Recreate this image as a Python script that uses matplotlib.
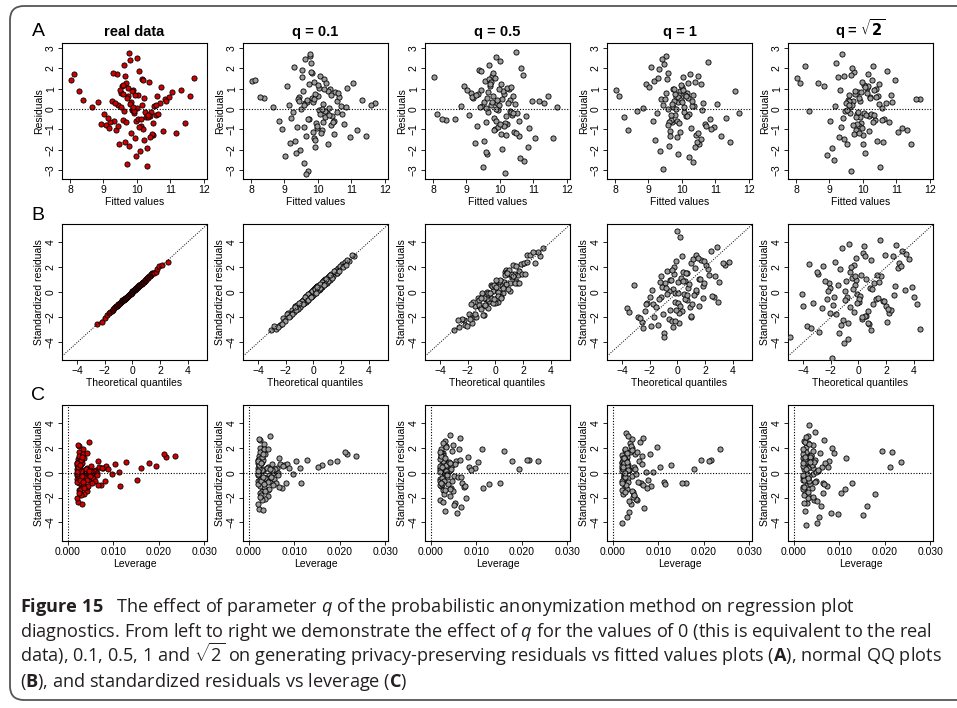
import numpy as np
import matplotlib
matplotlib.use('Agg')
import matplotlib.pyplot as plt
from matplotlib.patches import FancyBboxPatch
from statistics import NormalDist

plt.rcParams['font.family'] = ['Liberation Sans', 'DejaVu Sans']
plt.rcParams['mathtext.fontset'] = 'custom'
plt.rcParams['mathtext.rm'] = 'Open Sans'
plt.rcParams['mathtext.it'] = 'Open Sans:italic'
plt.rcParams['mathtext.bf'] = 'Open Sans:bold'

# ---- data (subsample of each point cloud) ----
panel_titles = ['real data', 'q = 0.1', 'q = 0.5', 'q = 1', r'q = $\mathbf{\sqrt{2}}$']

# shared fitted values (x of row A)
fitted = [
    9.84, 10.12, 9.56, 10.41, 9.73, 9.95, 10.68, 9.31, 10.05, 9.62,
    10.27, 9.88, 9.47, 10.83, 9.99, 9.21, 10.36, 9.70, 10.14, 9.53,
    8.02, 10.58, 9.79, 9.38, 10.22, 9.91, 11.05, 9.66, 10.47, 9.14,
    9.86, 10.31, 8.65, 10.02, 9.58, 10.73, 9.43, 10.18, 11.32, 9.77,
    9.97, 9.26, 10.09, 10.52, 9.68, 8.38, 10.39, 9.82, 10.95, 9.49,
    10.21, 9.07, 9.93, 10.64, 9.61, 11.71, 10.03, 9.35, 10.29, 9.75,
    9.52, 10.44, 8.92, 10.16, 9.89, 10.87, 9.41, 10.07, 9.64, 11.18,
    8.27, 9.81, 10.34, 9.17, 10.61, 9.96, 9.58, 10.25, 9.71, 10.49,
    9.29, 10.11, 11.58, 9.85, 10.38, 9.02, 10.01, 9.69, 10.78, 8.83,
    9.92, 10.19, 9.44, 10.56, 9.76, 11.43, 9.60, 10.32, 8.11, 9.90,
]

# shared leverage (x of row C)
leverage = [
    0.0021, 0.0034, 0.0026, 0.0045, 0.0022, 0.0029, 0.0061, 0.0038, 0.0024, 0.0052,
    0.0027, 0.0020, 0.0041, 0.0078, 0.0031, 0.0047, 0.0036, 0.0023, 0.0058, 0.0028,
    0.0215, 0.0049, 0.0025, 0.0033, 0.0069, 0.0021, 0.0104, 0.0030, 0.0042, 0.0055,
    0.0022, 0.0035, 0.0112, 0.0026, 0.0039, 0.0066, 0.0032, 0.0024, 0.0127, 0.0046,
    0.0020, 0.0043, 0.0029, 0.0051, 0.0023, 0.0161, 0.0037, 0.0072, 0.0084, 0.0030,
    0.0025, 0.0059, 0.0021, 0.0048, 0.0034, 0.0235, 0.0027, 0.0040, 0.0031, 0.0022,
    0.0029, 0.0044, 0.0081, 0.0024, 0.0063, 0.0075, 0.0033, 0.0021, 0.0026, 0.0115,
    0.0178, 0.0023, 0.0036, 0.0053, 0.0050, 0.0020, 0.0028, 0.0096, 0.0022, 0.0041,
    0.0042, 0.0025, 0.0194, 0.0021, 0.0035, 0.0064, 0.0023, 0.0027, 0.0067, 0.0089,
    0.0020, 0.0030, 0.0034, 0.0046, 0.0024, 0.0152, 0.0026, 0.0032, 0.0212, 0.0021,
]

# real residuals
resid_real = [
    0.35, -0.82, 1.12, -0.15, 0.64, -1.43, 0.28, -0.57, 1.86, -0.09,
    -0.38, 0.92, -1.71, 0.47, 0.05, -0.66, 1.34, -2.72, 0.18, 0.77,
    1.45, -0.29, 2.41, -1.05, 0.56, -0.21, 0.83, 1.62, -1.28, -0.44,
    -0.03, -1.92, 0.10, 0.71, -0.55, 1.08, 0.22, -0.97, 0.95, 2.78,
    -0.61, 0.39, -2.05, 0.14, 1.27, 0.45, -0.34, -1.16, 0.58, 0.93,
    -1.54, -0.79, 0.68, -0.27, 2.15, 1.55, -0.48, 0.31, -2.83, 1.01,
    0.12, -1.21, -0.72, 1.49, -0.06, 0.41, 1.73, -0.88, -1.62, -1.20,
    0.90, 0.24, -0.41, -0.95, 0.63, -2.31, 1.19, -0.16, 0.52, -0.70,
    1.78, -0.51, 0.65, 0.87, -1.37, -0.23, 2.52, -0.64, -1.08, 0.33,
    -0.12, 1.41, -0.86, 0.19, -1.83, -0.70, 0.74, -0.32, 1.70, 0.08,
]

# row A: privacy-preserving residuals
resid_q01 = [
    0.52, -1.04, 0.87, -0.33, 1.21, -0.71, 0.15, -1.58, 1.63, 0.27,
    -0.19, 1.35, -2.02, 0.08, 0.64, -0.45, 0.96, -3.05, -0.62, 1.92,
    1.38, 0.41, 2.27, -0.88, -0.11, 0.73, 1.26, -1.31, -0.57, 0.19,
    0.33, -1.73, 0.12, 1.04, -2.64, -0.26, 0.58, 1.47, 0.42, 2.61,
    -0.93, -0.14, -1.19, 0.85, 0.36, 0.55, -0.78, 1.76, -1.37, 0.02,
    -0.39, 1.11, -1.86, 0.61, 2.44, 0.30, -0.07, -2.18, 0.90, -0.51,
    1.57, -0.66, -0.97, 0.24, -1.45, 1.03, 0.47, -0.23, -3.18, -1.02,
    0.60, 1.82, -0.30, -1.66, 0.79, -0.84, 0.18, 1.30, -0.48, -1.24,
    2.08, -0.02, 0.21, -1.12, 0.67, -2.31, 1.16, 0.44, -0.73, -0.61,
    -1.51, 0.98, 0.39, -0.17, 2.69, -1.35, -0.90, 0.06, 1.41, 0.50,
]
resid_q05 = [
    -0.44, 0.73, 1.38, -1.12, 0.21, -0.05, 1.69, -0.82, 0.47, -2.21,
    0.96, -0.61, 0.13, -1.87, 2.36, 0.52, -0.29, 1.15, -3.14, 0.34,
    1.57, -1.33, 0.62, 1.93, -0.74, 0.28, -1.41, -0.16, 2.82, 0.81,
    -0.98, 0.45, -0.47, 1.24, 0.07, -2.55, 0.91, -0.37, 0.29, 1.60,
    0.19, -1.69, 0.88, -0.22, 1.47, -0.52, 0.66, -1.05, 0.38, -2.86,
    1.02, -0.31, -0.89, 2.04, 0.55, 0.12, -1.24, 0.74, -0.08, 1.31,
    -1.58, 0.26, 1.11, -0.69, 2.57, -0.95, 0.09, -1.96, 0.83, 0.41,
    -0.50, 1.75, -0.13, 0.58, -2.40, 0.99, -0.64, 0.31, 1.22, -1.17,
    0.71, -0.86, -1.42, 1.53, -0.20, 0.95, -0.76, 2.19, -0.35, 0.17,
    0.44, -1.28, 1.86, -0.58, 0.36, 0.63, -2.12, 1.07, -0.27, 0.00,
]
resid_q1 = [
    0.61, -0.37, 1.47, -1.26, 0.09, 0.88, -0.72, 1.95, -0.14, -1.81,
    -0.95, 0.33, 2.21, -0.48, 1.06, -1.54, 0.17, -0.66, 0.79, 2.63,
    0.92, 1.25, -0.28, 0.48, -2.37, 0.70, 0.23, -1.07, 1.62, -0.59,
    -1.39, 0.14, -0.11, 0.93, 1.79, -0.84, -2.94, 0.56, -0.46, 0.39,
    1.17, -0.21, 0.67, -1.72, -0.53, -1.02, 1.34, 0.02, -0.90, 0.51,
    -0.25, 2.05, -1.15, 0.27, -0.64, -0.18, 1.58, -2.08, 0.41, 1.00,
    0.80, -1.61, 1.22, -0.33, 0.58, -0.99, 2.44, 0.11, -1.31, -1.35,
    -0.41, 0.75, -2.62, 1.37, -0.07, 0.44, -0.79, 1.71, 0.26, -1.20,
    1.51, 0.63, 0.90, -0.57, -1.88, 1.09, 0.35, -0.30, 2.30, 0.05,
    -0.69, 1.29, 0.20, -1.47, 0.96, -1.63, -0.02, 0.71, 0.62, -2.23,
]
resid_qs2 = [
    -0.27, 1.03, 0.46, -1.57, 1.82, -0.68, 0.31, 0.95, -2.19, 0.12,
    1.44, -0.83, -0.09, 0.69, -1.29, 2.28, -0.56, 0.37, 1.12, -1.71,
    1.55, 0.03, -1.02, 2.73, 0.58, -0.41, -1.13, 1.68, 0.24, -2.52,
    0.86, -0.62, 1.29, -0.19, 0.41, 1.87, -1.46, -0.35, -1.06, 0.74,
    -0.93, 1.58, -0.31, -2.87, 0.18, -0.12, 0.99, -0.74, 1.41, 0.27,
    0.52, -1.92, 0.84, -0.48, -0.21, 0.47, 1.19, -0.87, 2.11, -1.25,
    -0.07, 0.62, -2.28, 1.73, -1.18, 0.33, -0.45, 1.06, -3.08, -0.96,
    2.10, -0.39, 0.91, 0.15, -1.61, 1.35, 0.68, -0.27, -0.80, 1.21,
    -1.37, 0.79, 0.49, -0.15, 0.60, -0.58, -1.74, 2.02, -0.66, 1.13,
    0.40, -1.08, 1.62, -0.53, 0.87, -1.72, 0.21, -0.30, 1.30, 0.56,
]

# row B: privacy-preserving QQ points (theoretical, standardized)
qqx_q01 = [
    -1.52, 0.34, -0.71, 1.18, -0.06, 2.04, -2.21, 0.62, -0.39, 1.57,
    0.95, -1.09, -0.24, 2.61, 0.13, -2.73, 0.77, -0.55, 1.36, -1.83,
    -0.12, 1.81, -1.31, 0.48, -0.88, 2.95, -0.31, 1.03, -2.44, 0.21,
    -0.63, 1.45, 0.07, -1.67, 0.86, -3.08, 0.40, -0.97, 2.27, -0.18,
    1.12, -0.45, 0.58, -2.05, 1.69, -0.79, 0.26, -1.20, 0.02, 2.41,
    -1.41, 0.70, -0.02, 1.27, -2.60, 0.35, -0.52, 1.93, -0.93, 0.11,
    0.51, -1.95, 1.05, -0.28, 0.18, -1.14, 1.62, -0.67, 2.17, -0.09,
    -0.83, 0.91, -1.57, 0.29, 2.79, -0.36, 1.34, -2.31, 0.64, -0.15,
    1.71, -0.58, 0.44, -1.25, 0.81, -2.88, 0.09, 1.49, -0.74, 0.23,
    -1.02, 2.36, -0.42, 0.73, -1.75, 1.21, 0.16, -0.21, 1.88, -1.36,
]
qqy_q01 = [
    -1.38, 0.51, -0.88, 1.02, 0.15, 2.25, -2.05, 0.43, -0.60, 1.71,
    0.78, -1.24, -0.02, 2.48, 0.31, -2.92, 0.99, -0.74, 1.19, -1.65,
    -0.30, 1.97, -1.12, 0.29, -1.05, 2.88, -0.11, 1.24, -2.63, 0.05,
    -0.47, 1.28, 0.25, -1.85, 1.06, -3.02, 0.22, -1.18, 2.41, 0.01,
    1.31, -0.63, 0.41, -2.28, 1.52, -0.60, 0.47, -1.03, -0.17, 2.57,
    -1.60, 0.88, -0.20, 1.45, -2.79, 0.17, -0.33, 2.11, -0.75, 0.29,
    0.33, -1.77, 0.87, -0.10, 0.39, -1.32, 1.81, -0.85, 1.98, 0.12,
    -0.66, 1.08, -1.73, 0.47, 2.96, -0.17, 1.16, -2.49, 0.81, -0.36,
    1.54, -0.40, 0.63, -1.44, 0.63, -2.71, 0.29, 1.67, -0.93, 0.42,
    -0.85, 2.19, -0.61, 0.55, -1.94, 1.39, -0.03, -0.40, 1.72, -1.18,
]
qqx_q05 = [
    -1.45, 0.52, -0.33, 1.61, 0.08, -2.30, 0.94, -0.71, 2.25, -1.10,
    0.27, -0.95, 1.33, -1.72, 0.66, 2.83, -0.18, 1.02, -2.61, 0.43,
    -0.57, 1.88, -1.28, 0.15, 3.25, -0.02, 1.46, -1.93, 0.79, -0.41,
    1.19, -0.84, 0.35, -2.97, 0.90, -0.26, 2.06, -1.52, 0.55, -0.09,
    -1.16, 1.57, -0.48, 0.71, -2.17, 0.21, 1.25, -0.65, 2.51, -1.38,
    0.61, -0.15, 1.74, -0.99, 0.02, -1.81, 0.38, 2.29, -0.61, 1.08,
    -0.30, 0.84, -2.44, 1.41, -0.74, 0.47, 3.05, -1.61, 0.12, -0.89,
    1.95, -1.22, 0.31, -0.52, 2.69, -2.05, 0.74, -0.04, 1.13, -1.79,
    -0.63, 1.52, 0.19, -1.07, 0.97, -0.36, 1.68, -2.73, 0.58, -0.21,
    0.05, -1.49, 2.14, -0.80, 1.29, -0.12, 0.86, -1.01, 3.42, 0.40,
]
qqy_q05 = [
    -1.10, -0.08, 0.57, 1.41, -0.77, -2.20, 1.49, -1.11, 3.00, -1.15,
    -0.03, -0.30, 1.48, -2.47, 1.61, 2.33, 0.07, 0.12, -2.76, 0.88,
    -1.27, 2.28, -0.43, 0.05, 2.90, 0.58, 0.91, -1.73, 1.79, -0.66,
    1.24, -1.79, 0.85, -2.97, 0.25, 0.54, 2.36, -1.97, 0.40, 0.61,
    -0.61, 0.77, -0.68, 1.36, -2.57, -0.79, 2.15, -0.55, 2.96, -1.98,
    0.86, -0.65, 1.69, -0.04, 0.42, -2.11, -0.37, 2.44, -0.01, 0.73,
    -0.45, 1.59, -2.09, 0.71, -0.99, 0.52, 3.25, -0.81, -0.48, -1.84,
    1.50, -1.02, 1.01, -0.07, 3.24, -2.65, 0.64, -0.84, 1.48, -0.94,
    -0.53, 2.12, -0.26, -1.37, 1.82, -0.06, 0.78, -2.23, 0.38, -0.86,
    0.95, -1.74, 1.44, -0.45, 1.29, -0.52, 1.51, -0.46, 3.57, -0.45,
]
qqx_q1 = [
    -1.21, 0.43, 1.88, -0.62, 0.07, 2.74, -2.35, 0.95, -0.18, 1.36,
    -0.88, 0.31, -1.74, 1.12, 3.45, -0.34, 0.68, -2.87, 1.59, -0.05,
    0.22, -1.43, 2.19, -0.51, 0.89, -3.68, 1.31, -0.15, -2.02, 0.58,
    1.71, -0.97, 0.14, -2.56, 0.76, 2.63, -0.28, 1.04, -1.18, 3.72,
    -0.40, 1.25, -1.86, 0.49, -0.72, 2.41, 0.02, -3.15, 0.97, -1.33,
    0.81, -0.23, 1.53, -2.18, 0.36, -1.02, 2.05, -0.59, 3.31, 0.11,
    -1.58, 1.94, -0.08, 0.67, -2.71, 1.18, -0.45, 2.86, -0.96, 0.28,
    -0.31, 2.28, -1.14, 0.54, -3.52, 1.46, -0.77, 0.19, -2.24, 1.83,
    0.99, -1.67, 0.41, -0.12, 2.52, -0.83, 1.65, -2.48, 0.72, -0.36,
    1.38, -0.55, 3.02, -1.92, 0.06, -0.21, 1.90, -1.26, 0.63, 2.97,
]
qqy_q1 = [
    -0.35, 1.62, 0.48, -2.11, 0.83, 1.30, -1.52, 2.35, -0.74, 0.06,
    0.71, -1.46, -0.92, 2.68, 2.21, 0.25, -0.63, -1.94, 1.05, 4.91,
    4.38, -2.57, 1.84, 1.02, -1.21, -1.23, 2.97, -0.09, -0.38, 0.94,
    2.59, -3.21, -1.65, -2.38, 0.31, -0.41, 1.47, -0.94, 1.28, 2.41,
    -2.27, 1.91, 0.18, -0.17, 1.73, 3.29, -0.82, 0.55, -1.98, -0.51,
    0.63, 2.02, -1.13, -0.85, 2.88, -1.72, 2.16, 0.12, 2.31, -2.45,
    -1.18, 0.72, -1.38, 1.51, -2.04, -0.22, 0.97, 3.62, -3.58, 1.16,
    -2.76, 1.35, 0.41, -0.57, -1.55, 2.73, -0.11, -1.09, -0.97, -0.48,
    -1.87, -1.96, 0.89, 2.46, -0.32, 0.37, 1.06, -2.83, -0.25, 1.80,
    0.19, -1.41, 0.86, -2.66, -0.03, -2.32, 2.51, 0.84, 1.57, -0.79,
]
qqx_qs2 = [
    -2.13, 0.54, 1.92, -0.86, 3.41, -3.75, 0.18, -1.44, 2.67, -0.32,
    1.05, -2.91, 0.37, -0.11, 4.46, -1.68, 2.21, -4.92, 0.82, -0.59,
    1.53, -0.74, 3.87, -2.45, 0.03, -1.19, 2.86, -3.28, 0.66, -0.18,
    -1.02, 2.48, -0.46, 1.27, -4.11, 0.29, -2.66, 3.19, -0.95, 0.91,
    -0.23, 1.78, -3.56, 0.47, -1.82, 3.63, -0.68, 2.05, -2.31, 1.16,
    0.12, -1.35, 4.21, -0.79, 1.64, -2.07, 0.75, -3.01, 2.39, -0.42,
    2.93, -0.15, -1.60, 1.39, -2.89, 0.58, -0.98, 3.35, -1.91, 0.35,
    -0.61, 1.98, -2.22, 0.90, -1.13, 2.71, -0.30, -3.98, 1.47, 0.06,
    0.71, -1.50, 3.08, -0.53, 2.15, -2.54, 1.01, -0.07, -1.25, 4.03,
    -0.88, 1.33, -3.43, 0.24, 2.57, -1.77, 0.49, -0.27, 1.85, -2.03,
]
qqy_qs2 = [
    0.77, -1.85, 2.94, -0.41, 3.02, -2.71, 1.39, -3.22, 0.48, 2.18,
    -0.96, 1.43, 3.67, -0.13, -2.95, 2.42, -1.67, -3.56, 0.32, -1.21,
    4.21, -2.44, 0.41, 0.92, -0.75, 3.51, 1.94, -0.86, -1.48, 1.02,
    -4.05, 2.87, 1.17, -0.52, -0.14, -2.14, -1.23, 3.28, 0.07, -3.02,
    0.56, -0.68, 2.24, -1.88, -1.01, 2.69, 3.85, -2.33, -0.55, 0.71,
    -0.30, 1.85, -0.93, -3.69, 1.28, 0.38, -2.56, 1.62, -1.42, 0.26,
    2.35, 2.72, -1.77, -0.49, -3.15, 1.07, -0.63, 0.20, -5.25, 3.12,
    1.61, -1.12, 0.13, 2.58, -2.18, 3.79, -1.59, -1.08, 0.85, -0.51,
    -2.45, 0.59, 2.07, 1.98, -1.35, 2.11, 0.24, -0.84, -2.62, -0.35,
    0.94, 1.41, -2.86, -1.94, -0.21, -0.40, 2.86, 1.29, -0.66, -1.69,
]

# row C: privacy-preserving standardized residuals
stdres_q01 = [
    0.41, -0.93, 1.26, -0.22, 0.75, -1.51, 0.38, -0.64, 2.02, -0.05,
    -0.47, 1.04, -1.85, 0.58, 0.13, -0.72, 1.47, -2.91, 0.27, 0.86,
    1.52, -0.36, 2.63, -1.14, 0.67, -0.19, 0.91, 1.78, -1.40, -0.50,
    0.06, -2.08, 0.35, 0.81, -0.60, 1.19, 0.29, -1.06, 1.02, 2.94,
    -0.69, 0.47, -2.21, 0.22, 1.38, 0.64, -0.39, -1.25, 0.70, 1.01,
    -1.66, -0.85, 0.77, -0.31, 2.34, 1.36, -0.52, 0.39, -2.98, 1.12,
    0.18, -1.30, -0.79, 1.63, -0.02, 0.50, 1.88, -0.95, -1.76, -0.82,
    0.88, 0.30, -0.46, -1.02, 0.71, -2.49, 1.30, -0.12, 0.59, -0.77,
    1.93, -0.56, 0.95, 0.96, -1.47, -0.20, 2.71, -0.70, -1.17, 0.40,
    -0.08, 1.53, -0.92, 0.26, -1.97, 0.45, 0.82, -0.36, 1.68, 0.12,
]
stdres_q05 = [
    -0.51, 0.84, 1.55, -1.27, 0.29, -0.03, 1.88, -0.93, 0.56, -2.45,
    1.07, -0.69, 0.19, -2.07, 2.58, 0.63, -0.31, 1.30, -3.28, 0.41,
    1.02, -1.46, 0.72, 2.14, -0.83, 0.34, 0.83, -0.15, 3.05, 0.92,
    -1.09, 0.53, 1.93, 1.39, 0.10, -2.80, 1.02, -0.40, -0.94, 1.78,
    0.23, -1.86, 0.99, -0.23, 1.63, 1.72, 0.75, -1.15, 0.45, -3.12,
    1.13, -0.33, -0.97, 2.25, 0.62, 0.97, -1.36, 0.84, -0.06, 1.46,
    -1.73, 0.31, 1.25, -0.75, 2.80, -1.04, 0.12, -2.16, 0.93, -1.21,
    0.98, 1.93, -0.11, 0.66, -2.63, 1.10, -0.70, 0.37, 1.36, -1.28,
    0.80, -0.94, 0.32, 1.70, -0.19, 1.06, -0.83, 2.41, -0.37, 0.21,
    0.50, -1.40, 2.06, -0.63, 0.42, -0.86, -2.33, 1.19, 1.01, 0.02,
]
stdres_q1 = [
    0.75, -0.44, 1.79, -1.53, 0.12, 1.07, -0.87, 2.37, -0.16, -2.20,
    -1.15, 0.41, 2.69, -0.57, 1.29, -1.87, 0.21, -0.80, 0.96, 3.20,
    1.05, 1.52, -0.33, 0.59, -2.88, 0.86, 0.45, -1.30, 1.97, -0.71,
    -1.69, 0.18, -0.72, 1.13, 2.17, -1.02, -3.57, 0.68, 0.60, 0.48,
    1.42, -0.25, 0.82, -2.09, -0.64, -0.83, 1.63, 0.03, -1.09, 0.62,
    -0.30, 2.49, -1.40, 0.33, -0.78, 1.92, 1.92, -2.53, 0.50, 1.22,
    0.97, -1.96, 1.48, -0.40, 0.71, -1.20, 2.97, 0.14, -1.59, -0.95,
    0.28, 0.92, -3.18, 1.66, -0.08, 0.54, -0.96, 2.08, 0.31, -1.46,
    1.84, 0.77, 1.01, -0.69, -2.29, 1.33, 0.43, -0.36, 2.80, 0.06,
    -0.84, 1.57, 0.24, -1.79, 1.17, -0.82, -0.02, 0.86, 0.95, -4.02,
]
stdres_qs2 = [
    -0.38, 1.46, 0.65, -2.23, 2.58, -0.96, 0.44, 1.35, -3.11, 0.17,
    2.04, -1.18, -0.13, 0.98, -1.83, 3.24, -0.79, 0.52, 1.59, -2.43,
    1.68, 0.04, -1.45, 3.87, 0.82, -0.58, -1.60, 2.38, 0.34, -3.58,
    1.22, -0.88, -1.32, -0.27, 0.58, 2.65, -2.07, -0.50, -0.85, 1.05,
    -1.32, 2.24, -0.44, -4.07, 0.26, -2.70, 1.40, -1.05, 2.00, 0.38,
    0.74, -2.72, 1.19, -0.68, -0.30, 0.88, 1.69, -1.23, 2.99, -1.77,
    -0.10, 0.88, -3.23, 2.45, -1.67, 0.47, -0.64, 1.50, -4.20, 1.20,
    -1.75, -0.55, 1.29, 0.21, -2.28, 1.91, 0.96, -3.35, -1.13, 1.71,
    -1.94, 1.12, 1.73, -0.21, 0.85, -0.82, -2.47, 2.86, -0.94, 1.60,
    0.57, -1.53, 2.30, -0.75, 1.23, -3.40, 0.30, -0.43, 0.42, 0.79,
]

caption_lines = [
    r"$\mathbf{Figure\ 15}$   The effect of parameter $q$ of the probabilistic anonymization method on regression plot",
    r"diagnostics. From left to right we demonstrate the effect of $q$ for the values of 0 (this is equivalent to the real",
    r"data), 0.1, 0.5, 1 and $\sqrt{2}$ on generating privacy-preserving residuals vs fitted values plots ($\mathbf{A}$), normal QQ plots",
    r"($\mathbf{B}$), and standardized residuals vs leverage ($\mathbf{C}$)",
]

# ---- derived values for the real data (rstandard + normal QQ) ----
h = np.array(leverage)
r = np.array(resid_real)
std_real = r / (r.std(ddof=1) * np.sqrt(1 - h))
n = len(r)
pp = (np.arange(1, n + 1) - 0.5) / n
theo = np.array([NormalDist().inv_cdf(v) for v in pp])

rowA = [(fitted, resid_real), (fitted, resid_q01), (fitted, resid_q05),
        (fitted, resid_q1), (fitted, resid_qs2)]
rowB = [(theo, np.sort(std_real)), (qqx_q01, qqy_q01), (qqx_q05, qqy_q05),
        (qqx_q1, qqy_q1), (qqx_qs2, qqy_qs2)]
rowC = [(leverage, std_real), (leverage, stdres_q01), (leverage, stdres_q05),
        (leverage, stdres_q1), (leverage, stdres_qs2)]

# ---- layout (pixels) ----
W, H = 957, 708
fig = plt.figure(figsize=(W / 100, H / 100), dpi=100)

bg = fig.add_axes([0, 0, 1, 1], zorder=-1)
bg.set_xlim(0, W)
bg.set_ylim(H, 0)
bg.axis('off')
bg.add_patch(FancyBboxPatch((10, 6), 1000, 694, boxstyle='round,pad=0,rounding_size=14',
                            fill=False, ec='#555555', lw=1.3))
for letter, yy in zip(['A', 'B', 'C'], [32, 215, 396]):
    bg.text(38, yy, letter, fontsize=14, ha='center', va='center')
for i, line in enumerate(caption_lines):
    bg.text(20, 612 + i * 25, line, fontsize=13.1, family='Open Sans', math_fontfamily='custom',
            color='#231f20', ha='left', va='baseline')

col_x = [62, 243, 425, 607, 788]
row_y = [43, 224, 405]
pw, ph = 145, 136
dot = (0, (1, 1.5))


def make_ax(c, r):
    ax = fig.add_axes([col_x[c] / W, 1 - (row_y[r] + ph) / H, pw / W, ph / H])
    ax.tick_params(labelsize=7.5, length=3, width=0.6, pad=1.5)
    for s in ax.spines.values():
        s.set_linewidth(0.8)
    return ax


def finish(ax):
    plt.setp(ax.get_yticklabels(), rotation=90, va='center')


for c in range(5):
    fill = '#d00000' if c == 0 else '#9c9c9c'
    kw = dict(s=14, c=fill, edgecolors='black', linewidths=0.6, zorder=3)

    # row A
    ax = make_ax(c, 0)
    ax.scatter(*rowA[c], **kw)
    ax.axhline(0, color='black', lw=0.8, ls=dot, zorder=4)
    ax.set_xlim(7.76, 12.1)
    ax.set_ylim(-3.45, 3.25)
    ax.set_xticks([8, 9, 10, 11, 12])
    ax.set_yticks([-3, -2, -1, 0, 1, 2, 3])
    ax.set_xlabel('Fitted values', fontsize=7.5, labelpad=1)
    ax.set_ylabel('Residuals', fontsize=7.5, labelpad=1)
    if c == 4:
        ax.set_title(panel_titles[c], fontsize=10.5, fontweight='bold', pad=5,
                     math_fontfamily='dejavusans')
    else:
        ax.set_title(panel_titles[c], fontsize=10.5, fontweight='bold', pad=5)
    finish(ax)

    # row B
    ax = make_ax(c, 1)
    ax.scatter(*rowB[c], **kw)
    ax.axline((0, 0), slope=1, color='black', lw=0.7, ls=dot, zorder=4)
    ax.set_xlim(-5.1, 5.4)
    ax.set_ylim(-5.4, 5.45)
    ax.set_xticks([-4, -2, 0, 2, 4])
    ax.set_yticks([-4, -2, 0, 2, 4])
    ax.set_xlabel('Theoretical quantiles', fontsize=7.5, labelpad=1)
    ax.set_ylabel('Standardized residuals', fontsize=7.5, labelpad=1)
    finish(ax)

    # row C
    ax = make_ax(c, 2)
    ax.scatter(*rowC[c], **kw)
    ax.axhline(0, color='black', lw=0.8, ls=dot, zorder=4)
    ax.axvline(0, color='black', lw=0.8, ls=dot, zorder=4)
    ax.set_xlim(-0.0013, 0.0306)
    ax.set_ylim(-5.5, 5.45)
    ax.set_xticks([0, 0.01, 0.02, 0.03])
    ax.set_xticklabels(['0.000', '0.010', '0.020', '0.030'])
    ax.set_yticks([-4, -2, 0, 2, 4])
    ax.set_xlabel('Leverage', fontsize=7.5, labelpad=1)
    ax.set_ylabel('Standardized residuals', fontsize=7.5, labelpad=1)
    finish(ax)

fig.savefig('out.png', dpi=100)
